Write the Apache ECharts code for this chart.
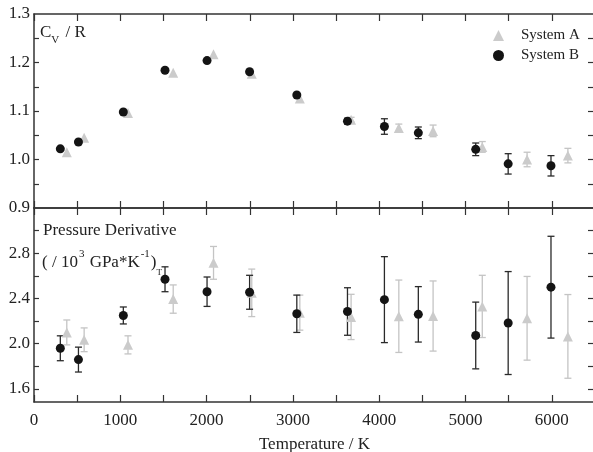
<!DOCTYPE html>
<html>
<head>
<meta charset="utf-8">
<script src="https://cdn.jsdelivr.net/npm/echarts@6/dist/echarts.min.js"></script>
<style>
html,body{margin:0;padding:0;background:#fff;}
#chart{width:593px;height:452px;}
</style>
</head>
<body>
<div id="chart"></div>
<script>
// ---- Data ----
const seriesNames = ['System A', 'System B'];

// Temperatures (K) of the points (System A plotted slightly offset)
const tempA = [380, 581, 1089, 1613, 2080, 2523, 3080, 3674, 4227, 4624, 5194, 5713, 6186];
const tempB = [305, 515, 1035, 1518, 2005, 2498, 3045, 3632, 4060, 4453, 5118, 5494, 5990];

// Top panel: Cv / R
const cvA    = [1.015, 1.045, 1.096, 1.179, 1.217, 1.177, 1.126, 1.082, 1.065, 1.059, 1.026, 1.000, 1.008];
const cvAErr = [0, 0, 0, 0, 0, 0, 0, 0.005, 0.008, 0.012, 0.011, 0.015, 0.015];
const cvB    = [1.022, 1.036, 1.098, 1.184, 1.204, 1.181, 1.133, 1.079, 1.068, 1.055, 1.021, 0.991, 0.987];
const cvBErr = [0, 0, 0, 0, 0, 0, 0, 0.006, 0.016, 0.012, 0.013, 0.021, 0.021];

// Bottom panel: pressure derivative (/10^3 GPa*K^-1)
const pdA    = [2.10, 2.035, 1.99, 2.395, 2.715, 2.45, 2.275, 2.237, 2.243, 2.245, 2.33, 2.225, 2.065];
const pdAErr = [0.11, 0.105, 0.08, 0.125, 0.145, 0.21, 0.155, 0.20, 0.32, 0.31, 0.275, 0.37, 0.37];
const pdB    = [1.96, 1.86, 2.25, 2.57, 2.46, 2.455, 2.265, 2.285, 2.39, 2.26, 2.073, 2.183, 2.50];
const pdBErr = [0.11, 0.11, 0.075, 0.11, 0.13, 0.15, 0.165, 0.21, 0.38, 0.245, 0.295, 0.455, 0.45];

// Axis ticks / labels
const xTickLabels = [0, 1000, 2000, 3000, 4000, 5000, 6000];
const cvTicks = [0.95, 1.0, 1.05, 1.1, 1.15, 1.2, 1.25];
const cvLabels = [0.9, 1.0, 1.1, 1.2, 1.3];
const pdTicks = [1.6, 1.8, 2.0, 2.2, 2.4, 2.6, 2.8, 3.0];
const pdLabels = [1.6, 2.0, 2.4, 2.8];

// ---- Chart ----
const FONT = 'Liberation Serif';
const TXT = '#222';
const AX = '#333';
const colA = '#cbcbcb';
const colB = '#141414';
const errColA = '#c4c4c4';
const errColB = '#2a2a2a';

const chart = echarts.init(document.getElementById('chart'), null, {renderer: 'canvas'});

function errData(xs, ys, es) {
  return xs.map((x, i) => [x, ys[i] - es[i], ys[i] + es[i], es[i]]);
}
function errSeries(name, xs, ys, es, color, ai) {
  return {
    type: 'custom',
    name: name,
    xAxisIndex: ai.x, yAxisIndex: ai.y,
    data: errData(xs, ys, es),
    encode: {x: 0, y: [1, 2]},
    itemStyle: {color: color},
    z: 1,
    silent: true,
    renderItem: function (params, api) {
      if (api.value(3) <= 0) return null;
      const x = api.value(0);
      const lo = api.coord([x, api.value(1)]);
      const hi = api.coord([x, api.value(2)]);
      const w = 3.5;
      const st = {stroke: color, lineWidth: 1.3};
      return {
        type: 'group',
        children: [
          {type: 'line', shape: {x1: lo[0], y1: lo[1], x2: hi[0], y2: hi[1]}, style: st},
          {type: 'line', shape: {x1: hi[0] - w, y1: hi[1], x2: hi[0] + w, y2: hi[1]}, style: st},
          {type: 'line', shape: {x1: lo[0] - w, y1: lo[1], x2: lo[0] + w, y2: lo[1]}, style: st}
        ]
      };
    }
  };
}
function zip(xs, ys) { return xs.map((x, i) => [x, ys[i]]); }

const tickStyle = {show: true, inside: true, length: 7, lineStyle: {color: AX, width: 1.2}};
const lineStyle = {show: true, onZero: false, lineStyle: {color: AX, width: 1.5}};

function xAx(grid, pos, showLabels) {
  return {
    type: 'value', gridIndex: grid, position: pos,
    min: 0, max: 6500, interval: 500,
    axisLine: lineStyle,
    axisTick: tickStyle,
    splitLine: {show: false},
    axisLabel: showLabels ? {
      show: true, margin: 10, color: TXT, fontFamily: FONT, fontSize: 17,
      formatter: v => (v % 1000 === 0 && v <= 6000) ? String(v) : ''
    } : {show: false},
    name: showLabels ? 'Temperature / K' : '',
    nameLocation: 'middle', nameGap: 34,
    nameTextStyle: {color: TXT, fontFamily: FONT, fontSize: 17}
  };
}
function yAx(grid, pos, min, max, ticks, labels, digits) {
  const left = pos === 'left';
  return {
    type: 'value', gridIndex: grid, position: pos,
    min: min, max: max,
    axisLine: lineStyle,
    axisTick: Object.assign({}, tickStyle, {customValues: ticks, length: left ? 5 : 7}),
    splitLine: {show: false},
    axisLabel: left ? {
      show: true, margin: 4, color: TXT, fontFamily: FONT, fontSize: 17,
      customValues: labels,
      formatter: v => Number(v).toFixed(digits)
    } : {show: false}
  };
}

const option = {
  backgroundColor: '#fff',
  animation: false,
  textStyle: {fontFamily: FONT},
  grid: [
    {left: 34, right: -2, top: 14, height: 194, outerBoundsMode: 'none', containLabel: false},
    {left: 34, right: -2, top: 208, height: 194, outerBoundsMode: 'none', containLabel: false}
  ],
  xAxis: [
    xAx(0, 'bottom', false),
    xAx(0, 'top', false),
    xAx(1, 'bottom', true),
    xAx(1, 'top', false)
  ],
  yAxis: [
    yAx(0, 'left', 0.9, 1.3, cvTicks, cvLabels, 1),
    yAx(0, 'right', 0.9, 1.3, cvTicks, cvLabels, 1),
    yAx(1, 'left', 1.485, 3.2, pdTicks, pdLabels, 1),
    yAx(1, 'right', 1.485, 3.2, pdTicks, pdLabels, 1)
  ],
  legend: {
    orient: 'vertical',
    left: 488, top: 23,
    itemWidth: 11, itemHeight: 11, itemGap: 5,
    data: [
      {name: seriesNames[0], icon: 'triangle', itemStyle: {color: colA, opacity: 1}},
      {name: seriesNames[1], icon: 'circle', itemStyle: {color: colB, opacity: 1}}
    ],
    textStyle: {color: TXT, fontFamily: FONT, fontSize: 15, padding: [0, 0, 0, 12]}
  },
  graphic: [
    {
      type: 'text', left: 40, top: 24,
      style: {
        text: '{m|C}{s|V}{m| / R}',
        rich: {
          m: {fontFamily: FONT, fontSize: 17, fill: TXT, verticalAlign: 'bottom', lineHeight: 20},
          s: {fontFamily: FONT, fontSize: 11, fill: TXT, verticalAlign: 'bottom', lineHeight: 14, padding: [0, 2, -5, 0]}
        }
      }
    },
    {
      type: 'text', left: 43, top: 222,
      style: {text: 'Pressure Derivative', fontFamily: FONT, fontSize: 17, fill: TXT}
    },
    {
      type: 'text', left: 42, top: 249,
      style: {
        text: '{m|( / 10}{u|3}{m| GPa*K}{u|-1}{m|)}{d|T}',
        rich: {
          m: {fontFamily: FONT, fontSize: 17, fill: TXT, verticalAlign: 'bottom', lineHeight: 22},
          u: {fontFamily: FONT, fontSize: 11, fill: TXT, verticalAlign: 'top', lineHeight: 22, padding: [0, 1, 0, 1]},
          d: {fontFamily: FONT, fontSize: 9, fill: TXT, verticalAlign: 'bottom', lineHeight: 22, padding: [0, 0, -6, 0]}
        }
      }
    }
  ],
  series: [
    errSeries(seriesNames[0], tempA, cvA, cvAErr, errColA, {x: 0, y: 0}),
    errSeries(seriesNames[1], tempB, cvB, cvBErr, errColB, {x: 0, y: 0}),
    errSeries(seriesNames[0], tempA, pdA, pdAErr, errColA, {x: 2, y: 2}),
    errSeries(seriesNames[1], tempB, pdB, pdBErr, errColB, {x: 2, y: 2}),
    {
      type: 'scatter', name: seriesNames[0], xAxisIndex: 0, yAxisIndex: 0,
      symbol: 'triangle', symbolSize: 10, z: 3,
      itemStyle: {color: colA, opacity: 1}, data: zip(tempA, cvA)
    },
    {
      type: 'scatter', name: seriesNames[1], xAxisIndex: 0, yAxisIndex: 0,
      symbol: 'circle', symbolSize: 9, z: 4,
      itemStyle: {color: colB, opacity: 1}, data: zip(tempB, cvB)
    },
    {
      type: 'scatter', name: seriesNames[0], xAxisIndex: 2, yAxisIndex: 2,
      symbol: 'triangle', symbolSize: 10, z: 3,
      itemStyle: {color: colA, opacity: 1}, data: zip(tempA, pdA)
    },
    {
      type: 'scatter', name: seriesNames[1], xAxisIndex: 2, yAxisIndex: 2,
      symbol: 'circle', symbolSize: 9, z: 4,
      itemStyle: {color: colB, opacity: 1}, data: zip(tempB, pdB)
    }
  ]
};
chart.setOption(option);
</script>
</body>
</html>
